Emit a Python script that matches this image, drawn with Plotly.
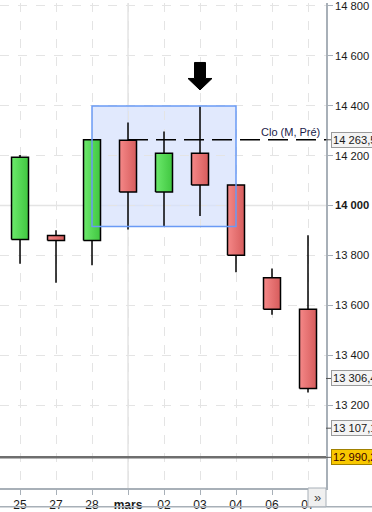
import plotly.graph_objects as go

# ---- data ----
dates = ["25", "27", "28", "mars", "02", "03", "04", "06", "07"]
opens = [13864, 13880, 13860, 14262, 14054, 14209, 14082, 13710, 13584]
closes = [14193, 13860, 14263.5, 14054, 14209, 14082, 13801, 13584, 13266]
highs = [14202, 13901, 14263.5, 14333, 14297, 14397, 14082, 13747, 13881]
lows = [13766, 13690, 13760, 13904, 13917, 13958, 13732, 13562, 13250]

y_ticks = [13200, 13400, 13600, 13800, 14000, 14200, 14400, 14600, 14800]
y_ticktext = ["13 200", "13 400", "13 600", "13 800", "<b>14 000</b>",
              "14 200", "14 400", "14 600", "14 800"]

prev_month_close = 14263.5
price_labels = [14263.5, 13306.4, 13107.1]
price_label_text = ["14 263,5", "13 306,4", "13 107,1"]
last_price = 12990.2
last_price_text = "12 990,2"

zone_start, zone_end = 2, 6          # indices of candles spanned by the blue zone
zone_low, zone_high = 13916, 14399
arrow_idx = 5

x_idx = list(range(len(dates)))
hw = 0.236
FONT = "Liberation Sans, Arial"
FS = 11.2

fig = go.Figure()

# wicks
wx, wy = [], []
for i in x_idx:
    wx += [i, i, None]
    wy += [lows[i], highs[i], None]
fig.add_trace(go.Scatter(x=wx, y=wy, mode="lines",
                         line=dict(color="black", width=1.5),
                         hoverinfo="skip", showlegend=False))

# bodies with horizontal gradient
for i in x_idx:
    o, c = opens[i], closes[i]
    lo, hi = min(o, c), max(o, c)
    if c >= o:
        cs = [[0, "#6cea6c"], [1, "#40c640"]]
    else:
        cs = [[0, "#f58888"], [1, "#d65c5c"]]
    fig.add_trace(go.Scatter(
        x=[i - hw, i + hw, i + hw, i - hw, i - hw],
        y=[lo, lo, hi, hi, lo],
        mode="lines", fill="toself",
        fillgradient=dict(type="horizontal", colorscale=cs),
        line=dict(color="black", width=1.5),
        hoverinfo="skip", showlegend=False))

shapes = []
# solid grid lines at 14000 and at "mars"
shapes.append(dict(type="line", xref="paper", x0=0, x1=1, yref="y",
                   y0=14000, y1=14000, line=dict(color="#e4e4e4", width=1.5),
                   layer="below"))
shapes.append(dict(type="line", xref="x", x0=3, x1=3, yref="paper",
                   y0=0, y1=1, line=dict(color="#e4e4e4", width=1.5),
                   layer="below"))
# blue zone fill (below) and border (above)
shapes.append(dict(type="rect", xref="x", yref="y", x0=zone_start, x1=zone_end,
                   y0=zone_low, y1=zone_high, fillcolor="rgba(215,226,252,0.75)",
                   line=dict(width=0), layer="below"))
shapes.append(dict(type="rect", xref="x", yref="y", x0=zone_start, x1=zone_end,
                   y0=zone_low, y1=zone_high, fillcolor="rgba(0,0,0,0)",
                   line=dict(color="#6a9af5", width=1.5), layer="above"))
# previous month close dashed line
shapes.append(dict(type="line", xref="x", x0=3, x1=8.5, yref="y",
                   y0=prev_month_close, y1=prev_month_close,
                   line=dict(color="black", width=1.5, dash="20px,8px")))
# last price line
shapes.append(dict(type="line", xref="paper", x0=0, x1=1, yref="y",
                   y0=last_price, y1=last_price,
                   line=dict(color="#6e6e6e", width=2.5)))
# arrow above candle
shapes.append(dict(type="path", xref="x", yref="y", xsizemode="pixel",
                   ysizemode="pixel", xanchor=arrow_idx, yanchor=highs[arrow_idx],
                   path="M -5.5,44 L 5.5,44 L 5.5,28 L 12,28 L 0,16.5 L -12,28 L -5.5,28 Z",
                   fillcolor="black", line=dict(color="black", width=1)))
# tick marks for price labels
for v in price_labels + [last_price]:
    shapes.append(dict(type="line", xref="paper", x0=1, x1=1.016, yref="y",
                       y0=v, y1=v, line=dict(color="#555", width=1)))
# bottom border line and scroll button
shapes.append(dict(type="line", xref="paper", x0=0, x1=1.15, yref="paper",
                   y0=-0.0387, y1=-0.0387, line=dict(color="#a8b0b8", width=1.5)))
shapes.append(dict(type="rect", xref="paper", x0=308 / 326, x1=1, yref="paper",
                   y0=-0.0387, y1=0, fillcolor="#f0f0f0",
                   line=dict(color="#a8b0b8", width=1)))

annotations = []
annotations.append(dict(xref="paper", yref="y", x=322 / 326, y=prev_month_close,
                        text="Clo (M, Pré)", showarrow=False, xanchor="right",
                        yanchor="bottom", yshift=0,
                        font=dict(family=FONT, size=11, color="#1c1c4a")))
for v, t in zip(price_labels, price_label_text):
    annotations.append(dict(xref="paper", yref="y", x=1, y=v, text=t,
                            showarrow=False, xanchor="left", yanchor="middle",
                            xshift=5, bgcolor="#f4f4f4", bordercolor="#9a9a9a",
                            borderwidth=1, borderpad=1,
                            font=dict(family=FONT, size=FS, color="#1a1a1a")))
annotations.append(dict(xref="paper", yref="y", x=1, y=last_price, text=last_price_text,
                        showarrow=False, xanchor="left", yanchor="middle",
                        xshift=5, bgcolor="#f8c800", bordercolor="#a08000",
                        borderwidth=1, borderpad=1,
                        font=dict(family=FONT, size=FS, color="#3a0000")))
annotations.append(dict(xref="paper", yref="paper", x=317 / 326, y=-0.019,
                        text="»", showarrow=False, xanchor="center", yanchor="middle",
                        font=dict(family=FONT, size=13, color="#444")))

fig.update_layout(
    width=372, height=512,
    margin=dict(l=0, r=46, t=0, b=21),
    paper_bgcolor="white", plot_bgcolor="white",
    showlegend=False,
    shapes=shapes, annotations=annotations,
    xaxis=dict(range=[-0.556, 8.5], tickvals=x_idx,
               ticktext=["<b>mars</b>" if d == "mars" else d for d in dates],
               showgrid=True, gridcolor="#e4e4e4", griddash="dash", gridwidth=1,
               zeroline=False, showline=True, linecolor="#a8b0b8", linewidth=1.5,
               ticks="outside", ticklen=5, tickcolor="#a8b0b8",
               tickfont=dict(family=FONT, size=12, color="#1a1a1a"),
               ticklabeloverflow="allow", fixedrange=True),
    yaxis=dict(range=[12867.3, 14811.9], side="right", tickvals=y_ticks,
               ticktext=y_ticktext, showgrid=True, gridcolor="#e4e4e4",
               griddash="dash", gridwidth=1, zeroline=False, showline=True,
               linecolor="#a8b0b8", linewidth=1.5, ticks="outside", ticklen=5,
               tickcolor="#a8b0b8",
               tickfont=dict(family=FONT, size=FS, color="#1a1a1a"),
               ticklabeloverflow="allow", fixedrange=True),
)

fig.write_html("out.html", config={"displayModeBar": False},
               post_script="document.body.style.margin='0';document.body.style.overflow='hidden';")
